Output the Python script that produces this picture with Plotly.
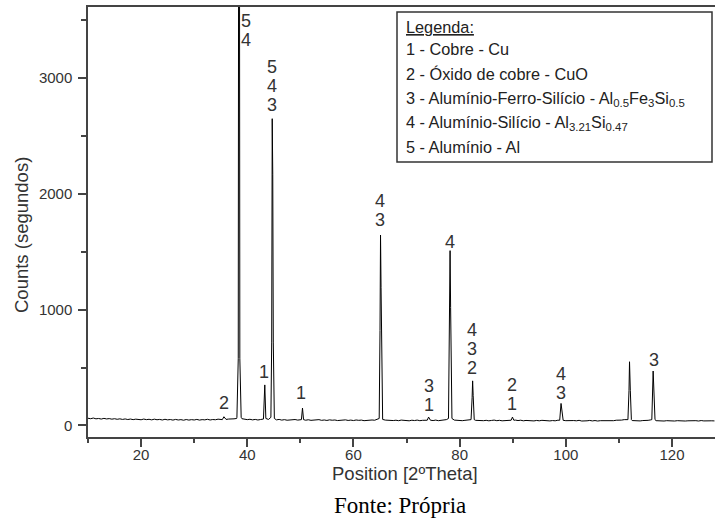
import plotly.graph_objects as go

# ---------------- data ----------------
# background counts, every 0.5 degree from 10.0 to 128.0
bg_start = 10.0
bg_step = 0.5
bg_counts = [
    62, 58, 64, 57, 60, 55, 61, 56, 59, 54,
    58, 53, 57, 52, 56, 51, 55, 50, 54, 52,
    49, 55, 50, 53, 48, 54, 49, 52, 47, 53,
    48, 51, 46, 52, 47, 50, 45, 51, 46, 50,
    47, 52, 46, 50, 48, 53, 47, 51, 49, 54,
    50, 58, 52, 55, 53, 57, 60, 62, 58, 54,
    50, 53, 48, 52, 47, 51, 49, 55, 52, 56,
    50, 48, 52, 46, 50, 45, 49, 47, 51, 46,
    48, 52, 45, 49, 44, 48, 46, 50, 44, 47,
    43, 48, 45, 47, 42, 46, 44, 48, 43, 46,
    42, 47, 44, 46, 41, 45, 43, 47, 45, 50,
    55, 52, 46, 44, 47, 42, 45, 41, 46, 43,
    44, 40, 45, 42, 46, 41, 44, 43, 48, 45,
    42, 46, 41, 44, 47, 50, 55, 52, 46, 43,
    45, 41, 44, 47, 50, 48, 44, 42, 45, 41,
    44, 40, 43, 46, 41, 44, 40, 43, 45, 48,
    52, 46, 42, 45, 40, 43, 41, 44, 39, 43,
    40, 44, 41, 43, 39, 42, 40, 45, 48, 44,
    41, 43, 39, 42, 40, 44, 38, 42, 40, 43,
    39, 42, 38, 41, 40, 43, 39, 42, 41, 45,
    43, 46, 50, 48, 44, 42, 40, 43, 39, 42,
    41, 44, 48, 45, 41, 39, 42, 38, 41, 39,
    42, 38, 41, 39, 43, 38, 40, 42, 39, 41,
    38, 42, 39, 41, 38, 40, 39,
]

# peak profiles (2theta, counts)
peak_cuo_x = [35.3, 35.6, 35.9]
peak_cuo_y = [50, 75, 50]
peak_384_x = [38.05, 38.3, 38.45, 38.6, 38.85]
peak_384_y = [70, 580, 9000, 580, 70]
peak_433_x = [43.05, 43.3, 43.5]
peak_433_y = [55, 350, 60]
peak_447_x = [44.45, 44.6, 44.7, 44.8, 44.9, 45.1]
peak_447_y = [70, 720, 2650, 2170, 720, 60]
peak_504_x = [50.2, 50.4, 50.6]
peak_504_y = [50, 150, 50]
peak_651_x = [64.85, 65.0, 65.1, 65.2, 65.3, 65.45]
peak_651_y = [60, 820, 1645, 1190, 820, 60]
peak_741_x = [73.9, 74.15, 74.4]
peak_741_y = [45, 72, 45]
peak_782_x = [77.9, 78.1, 78.2, 78.3, 78.4, 78.55]
peak_782_y = [60, 850, 1510, 1020, 320, 60]
peak_824_x = [82.15, 82.35, 82.45, 82.55, 82.75]
peak_824_y = [50, 240, 385, 260, 50]
peak_900_x = [89.7, 89.95, 90.2]
peak_900_y = [45, 72, 45]
peak_991_x = [98.85, 99.1, 99.25, 99.45]
peak_991_y = [45, 190, 110, 45]
peak_1120_x = [111.7, 111.9, 112.0, 112.15, 112.35]
peak_1120_y = [50, 300, 550, 300, 50]
peak_1165_x = [116.2, 116.45, 116.6, 116.8]
peak_1165_y = [50, 470, 260, 50]

# phase labels above the peaks (digits, top to bottom)
label_text = ["54", "543", "2", "1", "1", "43", "31", "4", "432", "21", "43", "3"]
label_x = [39.77, 44.67, 35.69, 43.22, 50.13, 65.07, 74.16, 78.25, 82.33, 89.79, 99.1, 116.53]
label_y = [3332, 2765, 195, 459, 277, 1774, 173, 1588, 498, 186, 277, 562]

legend_title = "<u>Legenda:</u>"
legend_lines = [
    "1 - Cobre - Cu",
    "2 - Óxido de cobre - CuO",
    "3 - Alumínio-Ferro-Silício - Al<sub>0.5</sub>Fe<sub>3</sub>Si<sub>0.5</sub>",
    "4 - Alumínio-Silício - Al<sub>3.21</sub>Si<sub>0.47</sub>",
    "5 - Alumínio - Al",
]

x_title = "Position [2ºTheta]"
y_title = "Counts (segundos)"
source_text = "Fonte: Própria"
x_ticks = [20, 40, 60, 80, 100, 120]
y_ticks = [0, 1000, 2000, 3000]

# ---------------- build the curve ----------------
peaks = [
    (peak_cuo_x, peak_cuo_y), (peak_384_x, peak_384_y), (peak_433_x, peak_433_y),
    (peak_447_x, peak_447_y), (peak_504_x, peak_504_y), (peak_651_x, peak_651_y),
    (peak_741_x, peak_741_y), (peak_782_x, peak_782_y), (peak_824_x, peak_824_y),
    (peak_900_x, peak_900_y), (peak_991_x, peak_991_y), (peak_1120_x, peak_1120_y),
    (peak_1165_x, peak_1165_y),
]
pts = []
for i, c in enumerate(bg_counts):
    x = bg_start + bg_step * i
    if any(min(px) <= x <= max(px) for px, _ in peaks):
        continue
    pts.append((x, c))
for px, py in peaks:
    pts.extend(zip(px, py))
pts.sort()
xs = [p[0] for p in pts]
ys = [p[1] for p in pts]

fig = go.Figure()
fig.add_trace(go.Scatter(x=xs, y=ys, mode="lines",
                         line=dict(color="black", width=1), hoverinfo="skip"))

# ---------------- geometry ----------------
W, H = 715, 524
L, R, T, B = 88, 0, 7, 87
pw, ph = W - L - R, H - T - B

def px2paper_x(px):
    return (px - L) / pw

def px2paper_y(py):
    return (H - B - py) / ph

axis_col = "#444444"
text_col = "#333333"
tick_font = dict(family="Liberation Sans, Arial, sans-serif", size=15, color=text_col)

fig.update_layout(
    width=W, height=H,
    margin=dict(l=L, r=R, t=T, b=B, pad=0),
    paper_bgcolor="white", plot_bgcolor="white",
    showlegend=False,
    xaxis=dict(range=[10, 128.1], tickvals=x_ticks, ticks="outside", ticklen=8,
               tickwidth=1.5, tickcolor=axis_col, showline=True, linecolor=axis_col,
               linewidth=1.5, mirror=True, showgrid=False, zeroline=False,
               tickfont=tick_font, ticklabelstandoff=-5,
               minor=dict(dtick=10, tick0=0, ticks="outside", ticklen=4,
                          tickwidth=1.5, tickcolor=axis_col, showgrid=False)),
    yaxis=dict(range=[-100, 3615], tickvals=y_ticks, ticks="outside", ticklen=8,
               tickwidth=1.5, tickcolor=axis_col, showline=True, linecolor=axis_col,
               linewidth=1.5, mirror=False, showgrid=False, zeroline=False,
               tickfont=tick_font, ticklabelstandoff=3,
               minor=dict(dtick=500, tick0=0, ticks="outside", ticklen=5,
                          tickwidth=1.5, tickcolor=axis_col, showgrid=False)),
)

ann = []
# peak labels
digit_step = 19
for txt, lx, ly in zip(label_text, label_x, label_y):
    n = len(txt)
    for k, ch in enumerate(txt):
        ann.append(dict(x=lx, y=ly, xref="x", yref="y", text=ch, showarrow=False,
                        xanchor="center", yanchor="middle",
                        yshift=(n - 1 - k) * digit_step,
                        font=dict(family="Liberation Sans, Arial, sans-serif",
                                  size=18, color=text_col)))

# legend box
fig.add_shape(type="rect", xref="paper", yref="paper",
              x0=px2paper_x(397), x1=px2paper_x(712),
              y0=px2paper_y(162), y1=px2paper_y(12),
              line=dict(color="#333333", width=1.5), fillcolor="white")
leg_font = dict(family="Liberation Sans, Arial, sans-serif", size=16.3, color="#222222")
leg_y = [27, 49, 74, 99, 123, 147]
for txt, yy in zip([legend_title] + legend_lines, leg_y):
    ann.append(dict(x=px2paper_x(404), y=px2paper_y(yy), xref="paper", yref="paper",
                    text=txt, showarrow=False, xanchor="left", yanchor="middle",
                    font=leg_font))

# axis titles
ann.append(dict(x=px2paper_x(405), y=px2paper_y(473), xref="paper", yref="paper",
                text=x_title, showarrow=False, xanchor="center", yanchor="middle",
                font=dict(family="Liberation Sans, Arial, sans-serif", size=18.5, color=text_col)))
ann.append(dict(x=px2paper_x(22), y=px2paper_y(235), xref="paper", yref="paper",
                text=y_title, showarrow=False, xanchor="center", yanchor="middle",
                textangle=-90,
                font=dict(family="Liberation Sans, Arial, sans-serif", size=18.5, color=text_col)))
ann.append(dict(x=px2paper_x(400), y=px2paper_y(505), xref="paper", yref="paper",
                text=source_text, showarrow=False, xanchor="center", yanchor="middle",
                font=dict(family="Liberation Serif, Times New Roman, serif", size=23, color="black")))

fig.update_layout(annotations=ann)
fig.write_html("out.html")
